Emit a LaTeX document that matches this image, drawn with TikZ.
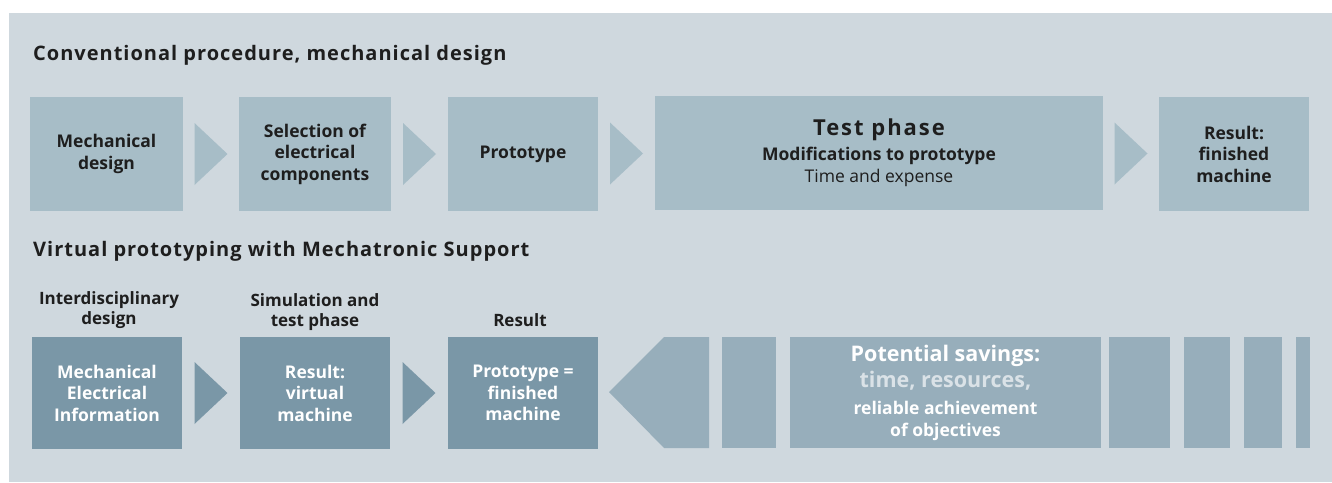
\documentclass[tikz,border=0pt]{standalone}
\usepackage{fontspec}
\setmainfont{Open Sans}
\usetikzlibrary{positioning, calc}
\definecolor{panelgray}{HTML}{CFD8DE}
\definecolor{convblue}{HTML}{A7BDC7}
\definecolor{virtblue}{HTML}{7A97A7}
\definecolor{saveblue}{HTML}{97AEBB}
\definecolor{textdark}{HTML}{1E1E1E}
\definecolor{textlight}{HTML}{DAE2E7}
\newcommand{\chevron}[3]{%
  \fill[#3] ($(#1.east)!0.5!(#2.west)$) ++(-16.5,-31) -- ++(33,31) -- ++(-33,31) -- cycle;}

\begin{document}
\begin{tikzpicture}[x=1pt, y=-1pt,
  convbox/.style={fill=convblue, text=textdark, minimum width=#1, minimum height=114pt, inner sep=0pt, align=center, font=\bfseries\fontsize{17.5}{21.5}\selectfont},
  virtbox/.style={fill=virtblue, text=white, minimum width=150pt, minimum height=112pt, inner sep=0pt, align=center, font=\bfseries\fontsize{17.5}{21.5}\selectfont},
  bar/.style={fill=saveblue},
  heading/.style={anchor=west, inner sep=0pt, text=textdark, font=\bfseries\fontsize{20}{24}\selectfont\addfontfeature{LetterSpace=5}},
  steplabel/.style={inner sep=0pt, text=textdark, align=center, font=\bfseries\fontsize{17}{20.5}\selectfont}
]
  \useasboundingbox (0,0) rectangle (1332,482);
  \fill[panelgray] (9,13) rectangle (1332,482);

  % conventional procedure
  \node[heading] (conv) at (33,55) {Conventional procedure, mechanical design};
  \node[convbox=153pt] (c1) at (106.5,154) {Mechanical\\design};
  \node[convbox=152pt] (c2) at (315,154) {Selection of\\electrical\\components};
  \node[convbox=150pt] (c3) at (523,154) {Prototype};
  \node[convbox=448pt, font=\bfseries\fontsize{17.5}{24.5}\selectfont] (c4) at (879,153)
    {{\fontsize{22}{26}\selectfont\addfontfeature{LetterSpace=9}Test phase}\\Modifications to prototype\\[-2pt]{\mdseries Time and expense}};
  \node[convbox=150pt] (c5) at (1234,154) {Result:\\finished\\machine};
  \chevron{c1}{c2}{convblue}
  \chevron{c2}{c3}{convblue}
  \chevron{c3}{c4}{convblue}
  \chevron{c4}{c5}{convblue}

  % virtual prototyping
  \node[heading] (virt) at (33,251) {Virtual prototyping with Mechatronic Support};
  \node[virtbox] (v1) at (107,393) {Mechanical\\Electrical\\Information};
  \node[virtbox] (v2) at (315,393) {Result:\\virtual\\machine};
  \node[virtbox] (v3) at (523,393) {Prototype =\\finished\\machine};
  \chevron{v1}{v2}{virtblue}
  \chevron{v2}{v3}{virtblue}
  \node[steplabel] (l1) at (109,310) {Interdisciplinary\\design};
  \node[steplabel] (l2) at (315,312) {Simulation and\\test phase};
  \node[steplabel] (l3) at (520,320) {Result};

  % potential savings
  \fill[bar] (609,392) -- (664,337) -- (709,337) -- (709,448) -- (664,448) -- cycle;
  \fill[bar] (722,337) rectangle (776,448);
  \node[bar, minimum width=311pt, minimum height=111pt, inner sep=0pt, align=center, text=white, font=\bfseries\fontsize{17.5}{26.5}\selectfont] (save) at (945.5,392.5)
    {{\fontsize{21.5}{26}\selectfont Potential savings:}\\
     {\fontsize{21.5}{26}\selectfont\color{textlight}time, resources,}\\
     reliable achievement\\[-4.5pt]
     of objectives};
  \foreach \xa/\xb in {1109/1170, 1184/1230, 1244/1282, 1296/1310}
    \fill[bar] (\xa,337) rectangle (\xb,448);
\end{tikzpicture}
\end{document}
